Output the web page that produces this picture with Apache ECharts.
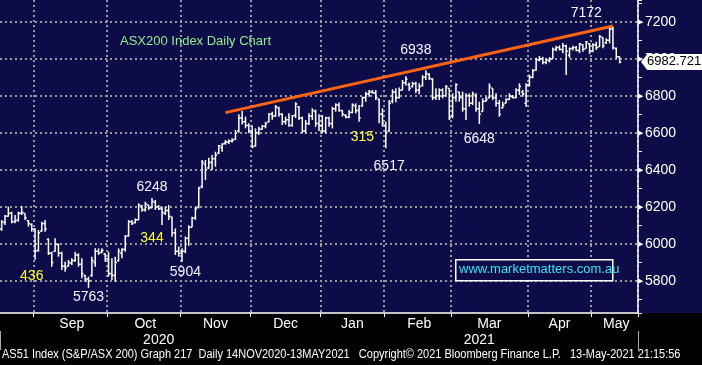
<!DOCTYPE html>
<html><head><meta charset="utf-8">
<script src="https://cdn.jsdelivr.net/npm/echarts@6/dist/echarts.min.js"></script>
<style>html,body{margin:0;padding:0;background:#000;}#c{width:702px;height:365px;}</style>
</head><body><div id="c"></div>
<script>
// ---- data ----
const startDate = '2020-08-18';
const totalSlots = 191; // trading days shown on axis (incl. empty days at right)
const holidays = ['2020-12-25','2020-12-28','2021-01-01','2021-01-26','2021-04-02','2021-04-05','2021-04-26'];
const monthNames = ['Jan','Feb','Mar','Apr','May','Jun','Jul','Aug','Sep','Oct','Nov','Dec'];

const opens = [6080,6115,6150,6165,6120,6130,6165,6165,6125,6105,6080,5965,6070,6110,6025,5950,5960,5995,5950,5880,
5880,5895,5910,5940,5890,5830,5810,5830,5900,5960,5955,5945,5920,5840,5830,5910,5950,5970,6045,6120,
6115,6130,6205,6185,6210,6195,6225,6200,6190,6165,6180,6145,6060,5960,5950,5960,6030,6090,6140,6200,
6310,6430,6410,6440,6460,6490,6520,6545,6550,6555,6565,6610,6680,6660,6640,6600,6530,6600,6620,6635,
6660,6700,6690,6735,6700,6660,6670,6640,6695,6740,6680,6610,6650,6690,6715,6650,6640,6610,6680,6650,
6730,6750,6720,6695,6685,6710,6745,6720,6745,6790,6810,6820,6815,6780,6700,6640,6610,6770,6820,6790,
6830,6870,6860,6850,6865,6830,6855,6900,6915,6890,6790,6800,6830,6800,6840,6690,6790,6820,6790,6730,
6800,6760,6800,6730,6715,6770,6790,6840,6790,6760,6735,6760,6780,6795,6790,6830,6820,6760,6860,6900,
6940,6995,7000,6980,6990,7000,7050,7060,7050,7070,7020,7055,7060,7045,7075,7055,7080,7040,7075,7065,
7115,7085,7100,7160,7055,7010];
const highs = [6129,6156,6201,6174,6156,6174,6205,6165,6129,6111,6085,6075,6120,6129,6030,5958,6030,6003,5958,5904,
5913,5922,5958,5949,5922,5832,5823,5931,5976,5976,5976,5949,5958,5922,5931,5976,5976,6048,6129,6129,
6138,6219,6210,6228,6210,6248,6237,6210,6201,6201,6210,6147,6084,5985,5976,6040,6100,6147,6200,6309,
6453,6453,6465,6480,6498,6534,6543,6561,6565,6570,6615,6700,6718,6687,6651,6640,6624,6633,6642,6660,
6705,6714,6750,6740,6705,6687,6705,6696,6765,6745,6687,6669,6705,6732,6725,6700,6696,6687,6687,6741,
6759,6763,6723,6700,6723,6759,6759,6750,6795,6822,6831,6831,6831,6785,6732,6660,6777,6835,6840,6845,
6885,6905,6872,6876,6876,6867,6912,6938,6921,6894,6840,6840,6840,6858,6840,6813,6867,6822,6822,6813,
6813,6822,6813,6768,6786,6795,6867,6840,6813,6777,6768,6786,6813,6804,6840,6867,6831,6867,6915,6945,
7005,7015,7011,7002,7008,7060,7070,7072,7085,7075,7060,7070,7068,7085,7078,7095,7085,7083,7092,7128,
7115,7110,7168,7172,7060,7012];
const lows = [6071,6102,6147,6111,6111,6120,6156,6129,6093,6066,5915,5958,6066,6066,5940,5877,5958,5931,5859,5850,
5877,5886,5904,5877,5814,5796,5763,5823,5877,5940,5949,5904,5823,5805,5796,5905,5922,5958,6039,6102,
6111,6129,6174,6174,6183,6192,6183,6183,6102,6156,6129,6039,5940,5931,5904,5950,5990,6090,6130,6192,
6300,6345,6405,6399,6417,6485,6498,6535,6540,6548,6561,6600,6645,6624,6597,6516,6525,6588,6615,6624,
6655,6670,6687,6687,6642,6645,6633,6633,6680,6669,6597,6597,6642,6669,6633,6610,6597,6597,6633,6624,
6714,6714,6687,6678,6678,6705,6705,6660,6741,6768,6795,6813,6777,6651,6633,6517,6606,6759,6765,6785,
6830,6855,6825,6845,6813,6808,6850,6885,6885,6777,6777,6777,6786,6804,6669,6678,6768,6768,6714,6669,
6741,6750,6714,6648,6714,6768,6786,6777,6741,6687,6732,6759,6777,6786,6786,6804,6795,6741,6850,6895,
6935,6985,6970,6970,6980,7000,7040,7045,7030,6912,7005,7045,7040,7030,7038,7055,7025,7035,7047,7065,
7056,7080,7083,7050,7000,6975];
const closes = [6120,6150,6165,6120,6125,6165,6170,6140,6110,6080,5960,6060,6110,6080,5950,5900,6000,5950,5880,5870,
5900,5910,5940,5890,5840,5810,5800,5910,5960,5950,5965,5920,5840,5830,5900,5960,5970,6040,6120,6110,
6130,6210,6185,6215,6195,6230,6200,6190,6170,6180,6150,6060,5960,5950,5960,6030,6090,6140,6190,6300,
6440,6400,6440,6460,6480,6530,6540,6550,6555,6560,6600,6680,6660,6640,6610,6525,6600,6620,6635,6650,
6700,6690,6740,6700,6660,6670,6640,6690,6755,6680,6610,6650,6690,6720,6650,6640,6610,6680,6650,6730,
6750,6720,6700,6685,6710,6750,6720,6680,6790,6810,6820,6815,6790,6700,6650,6600,6760,6820,6790,6830,
6870,6890,6840,6865,6830,6850,6900,6920,6895,6790,6800,6830,6800,6850,6680,6790,6860,6790,6730,6800,
6760,6810,6730,6700,6770,6780,6850,6790,6760,6700,6750,6780,6800,6790,6830,6850,6810,6860,6900,6935,
6995,7000,6980,6995,7000,7050,7060,7050,7070,7040,7055,7060,7045,7080,7050,7090,7040,7075,7060,7120,
7070,7100,7160,7060,7010,6982.721];

const annotTexts = ['436','5763','6248','344','5904','315','6517','6938','6648','7172'];
const annotIdx   = [9, 26, 45, 45, 55, 108, 116, 124, 143, 175];
const annotPrice = [5827, 5713, 6307, 6032, 5849, 6577, 6421, 7047, 6566, 7247];
const annotYellow = [true,false,false,true,false,true,false,false,false,false];

const trendIdx = [67, 183];
const trendPrice = [6709, 7177];
const chartTitle = 'ASX200 Index Daily Chart';
const siteText = 'www.marketmatters.com.au';
const footerText = 'AS51 Index (S&P/ASX 200) Graph 217  Daily 14NOV2020-13MAY2021   Copyright\u00A9 2021 Bloomberg Finance L.P.   13-May-2021 21:15:56';

// ---- categories (trading days) ----
const dates = [];
(function(){
  let d = new Date(startDate + 'T00:00:00Z');
  while (dates.length < totalSlots) {
    const s = d.toISOString().slice(0,10);
    const wd = d.getUTCDay();
    if (wd !== 0 && wd !== 6 && holidays.indexOf(s) < 0) dates.push(s);
    d = new Date(d.getTime() + 86400000);
  }
})();
const monthOf = s => s.slice(0,7);
const isMonthStart = i => i > 0 && monthOf(dates[i]) !== monthOf(dates[i-1]);
const isYearStart = i => i > 0 && dates[i].slice(0,4) !== dates[i-1].slice(0,4);
const monthMid = new Set();
(function(){
  let s = 0;
  for (let i = 1; i <= dates.length; i++) {
    if (i === dates.length || monthOf(dates[i]) !== monthOf(dates[i-1])) {
      if (i - s > 12) monthMid.add(Math.round((s + i - 1) / 2));
      s = i;
    }
  }
})();
const yearMid = new Set();
(function(){
  let s = 0;
  for (let i = 1; i <= dates.length; i++) {
    if (i === dates.length || dates[i].slice(0,4) !== dates[i-1].slice(0,4)) {
      yearMid.add(Math.floor((s + i - 1) / 2));
      s = i;
    }
  }
})();

const ohlc = closes.map((c, i) => [i, opens[i], c, lows[i], highs[i]]);

const FONT = "'Liberation Sans',Arial,sans-serif";
const GRID = '#9a9a9a';

function renderItem(params, api) {
  const i = api.value(0);
  const x = api.coord([i, api.value(1)])[0];
  const oy = api.coord([i, api.value(1)])[1];
  const cy = api.coord([i, api.value(2)])[1];
  const ly = api.coord([i, api.value(3)])[1];
  const hy = api.coord([i, api.value(4)])[1];
  const w = api.size([1, 0])[0] * 0.5;
  const st = { stroke: '#ffffff', lineWidth: 1.5 };
  return { type: 'group', children: [
    { type: 'line', shape: { x1: x, y1: hy, x2: x, y2: ly }, style: st },
    { type: 'line', shape: { x1: x - w, y1: oy, x2: x, y2: oy }, style: st },
    { type: 'line', shape: { x1: x, y1: cy, x2: x + w, y2: cy }, style: st }
  ]};
}

const annotData = annotTexts.map((t, k) => ({
  name: t,
  coord: [annotIdx[k], annotPrice[k]],
  label: { formatter: t, color: annotYellow[k] ? '#ffff33' : '#f4f4ff' }
}));
const lastI = closes.length - 1;
annotData.push({
  name: 'last',
  coord: [lastI, closes[lastI]],
  symbol: 'path://M0,8L6,0L60,0L60,16L6,16Z',
  symbolSize: [61, 16],
  symbolOffset: [52, 0],
  itemStyle: { color: '#ffffff' },
  label: { formatter: closes[lastI].toFixed(3), color: '#000', fontSize: 13, padding: [0,0,0,5] }
});

const chart = echarts.init(document.getElementById('c'), null, { renderer: 'canvas' });
chart.setOption({
  backgroundColor: '#000000',
  animation: false,
  graphic: [
    { type: 'rect', left: 0, top: 0, z: -10, shape: { width: 702, height: 313 }, style: { fill: '#0e0c48' } },
    { type: 'text', left: 120, top: 35, z: 10, style: { text: chartTitle, fill: '#90ee8c', font: "13px " + FONT } },
    { type: 'rect', left: 455, top: 259, z: 10, shape: { width: 157, height: 21 }, style: { fill: '#0e0c48', stroke: '#ffffff', lineWidth: 1.5 } },
    { type: 'text', left: 459, top: 263, z: 11, style: { text: siteText, fill: '#33e6f0', font: "13px " + FONT } },
    { type: 'text', x: 2, y: 349, scaleX: 0.915, z: 10, style: { text: footerText, fill: '#ffffff', font: "12px " + FONT } }
  ],
  grid: { left: 0, right: 64, top: 0, bottom: 52 },
  xAxis: [{
    type: 'category', data: dates, boundaryGap: true, position: 'bottom',
    axisLine: { show: true, lineStyle: { color: '#ffffff', width: 1.5 } },
    axisTick: { show: true, interval: i => isMonthStart(i), length: 4, lineStyle: { color: '#ffffff' } },
    axisLabel: { interval: i => monthMid.has(i), formatter: v => monthNames[+v.slice(5,7) - 1], color: '#ffffff', fontSize: 14, fontFamily: FONT, margin: 4 },
    splitLine: { show: true, interval: i => isMonthStart(i), lineStyle: { color: GRID, type: [2, 3], width: 2 } }
  }, {
    type: 'category', data: dates, boundaryGap: true, position: 'bottom', offset: 18,
    axisLine: { show: false },
    axisTick: { show: true, interval: i => isYearStart(i), length: 19, lineStyle: { color: '#aaaaaa' } },
    axisLabel: { interval: i => yearMid.has(i), formatter: v => v.slice(0,4), color: '#ffffff', fontSize: 14, fontFamily: FONT, margin: 2 },
    splitLine: { show: false }
  }],
  yAxis: {
    type: 'value', position: 'right', min: 5627, max: 7317, splitNumber: 8, minInterval: 200, maxInterval: 200,
    axisLine: { show: true, lineStyle: { color: '#ffffff', width: 1.5 } },
    axisTick: { show: true, length: 4, lineStyle: { color: '#ffffff' } },
    minorTick: { show: true, splitNumber: 2, length: 4, lineStyle: { color: '#ffffff' } },
    axisLabel: {
      showMinLabel: false, showMaxLabel: false, margin: 0,
      formatter: v => '{t|\u25B6}{v|' + v + '}',
      rich: { t: { fontSize: 7, color: '#ffffff', padding: [0, 2, 0, 0] }, v: { fontSize: 14, color: '#ffffff', fontFamily: FONT } }
    },
    splitLine: { show: true, showMinLine: false, showMaxLine: false, lineStyle: { color: GRID, type: [2, 3], width: 2 } }
  },
  series: [{
    type: 'custom', name: 'AS51', renderItem: renderItem, data: ohlc,
    encode: { x: 0, y: [1, 2, 3, 4] }, clip: true, z: 20,
    markLine: {
      symbol: 'none', silent: true,
      lineStyle: { color: '#ff6414', width: 3, type: 'solid' },
      label: { show: false },
      data: [[{ coord: [trendIdx[0], trendPrice[0]] }, { coord: [trendIdx[1], trendPrice[1]] }]]
    },
    markPoint: {
      symbol: 'circle', symbolSize: 1, silent: true, z: 30,
      itemStyle: { color: 'rgba(0,0,0,0)' },
      label: { show: true, position: 'inside', fontSize: 14, fontFamily: FONT },
      data: annotData
    }
  }]
});
</script></body></html>
